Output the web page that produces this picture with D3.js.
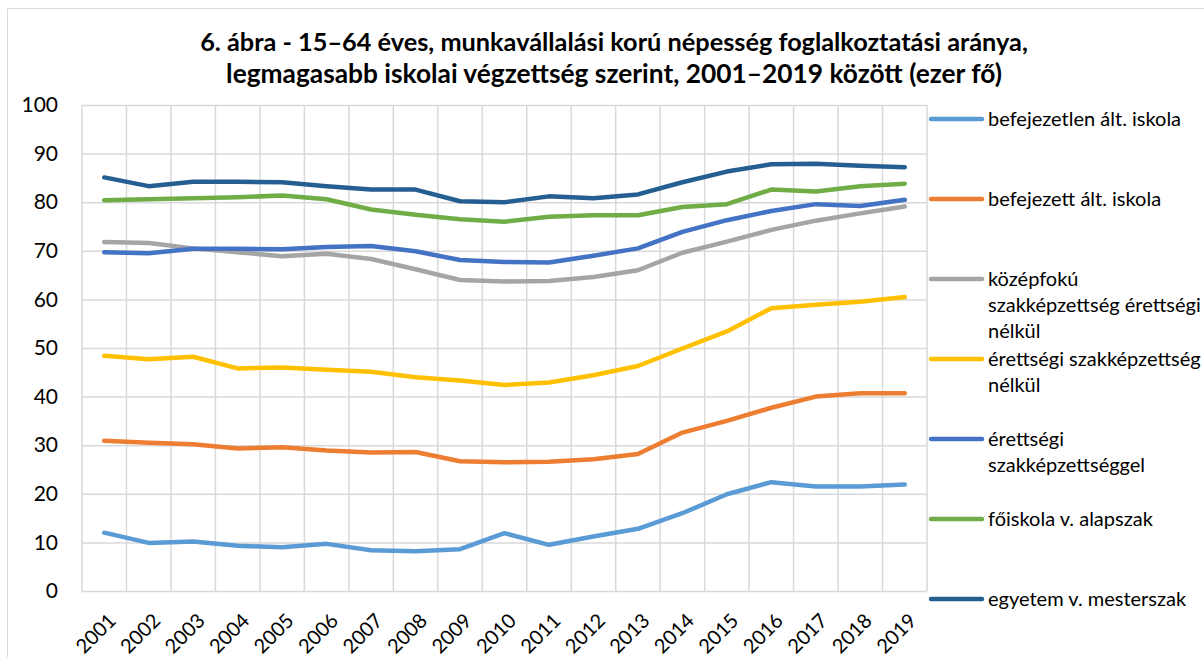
<!DOCTYPE html>
<html>
<head>
<meta charset="utf-8">
<script src="https://cdn.jsdelivr.net/npm/d3@7"></script>
<style>
  body { margin: 0; background: #fff; }
  svg text { font-family: Lato, "Noto Sans", sans-serif; fill: #000; }
</style>
</head>
<body>
<div id="chart"></div>
<script>
// Categories (x axis)
const years = ['2001', '2002', '2003', '2004', '2005', '2006', '2007', '2008', '2009', '2010',
               '2011', '2012', '2013', '2014', '2015', '2016', '2017', '2018', '2019'];

// Y axis ticks
const yTicks = [0, 10, 20, 30, 40, 50, 60, 70, 80, 90, 100];

// Series values
const befejezetlen = [12.0, 9.9, 10.2, 9.3, 9.0, 9.7, 8.4, 8.2, 8.6, 11.9, 9.5, 11.2, 12.8, 16.0, 19.9, 22.4, 21.5, 21.5, 21.9];
const befejezett = [30.9, 30.5, 30.2, 29.3, 29.6, 28.9, 28.5, 28.6, 26.7, 26.5, 26.6, 27.1, 28.2, 32.6, 35.0, 37.7, 40.0, 40.7, 40.7];
const kozepfoku = [71.8, 71.6, 70.5, 69.7, 68.9, 69.4, 68.3, 66.2, 64.0, 63.7, 63.8, 64.6, 66.0, 69.6, 71.9, 74.3, 76.2, 77.7, 79.1];
const erettsegiNelkul = [48.4, 47.7, 48.2, 45.8, 46.0, 45.5, 45.1, 44.0, 43.3, 42.4, 42.9, 44.4, 46.3, 49.9, 53.4, 58.2, 58.9, 59.5, 60.5];
const erettsegivel = [69.7, 69.5, 70.4, 70.4, 70.3, 70.8, 71.0, 69.9, 68.1, 67.7, 67.6, 69.0, 70.5, 73.9, 76.3, 78.2, 79.6, 79.2, 80.5];
const foiskola = [80.4, 80.6, 80.8, 81.0, 81.4, 80.6, 78.5, 77.4, 76.5, 76.0, 77.0, 77.3, 77.3, 79.0, 79.6, 82.6, 82.2, 83.3, 83.8];
const egyetem = [85.1, 83.3, 84.2, 84.2, 84.1, 83.3, 82.6, 82.6, 80.2, 80.0, 81.2, 80.8, 81.6, 84.1, 86.3, 87.8, 87.9, 87.5, 87.2];

// Series names and how they wrap in the legend
const seriesNames = [
    'befejezetlen ált. iskola',
    'befejezett ált. iskola',
    'középfokú szakképzettség érettségi nélkül',
    'érettségi szakképzettség nélkül',
    'érettségi szakképzettséggel',
    'főiskola v. alapszak',
    'egyetem v. mesterszak'
];
const legendLines = [
    ['befejezetlen ált. iskola'],
    ['befejezett ált. iskola'],
    ['középfokú', 'szakképzettség érettségi', 'nélkül'],
    ['érettségi szakképzettség', 'nélkül'],
    ['érettségi', 'szakképzettséggel'],
    ['főiskola v. alapszak'],
    ['egyetem v. mesterszak']
];
const seriesValues = [befejezetlen, befejezett, kozepfoku, erettsegiNelkul, erettsegivel, foiskola, egyetem];
const colors = ['#5B9BD5', '#ED7D31', '#A5A5A5', '#FFC000', '#4472C4', '#70AD47', '#255E91'];

const titleLines = [
    '6. ábra - 15–64 éves, munkavállalási korú népesség foglalkoztatási aránya,',
    'legmagasabb iskolai végzettség szerint, 2001–2019 között (ezer fő)'
];

const W = 1204, H = 657;
const margin = { top: 105, right: 277, bottom: 66, left: 82 };
const plotW = W - margin.left - margin.right;
const plotH = H - margin.top - margin.bottom;

const svg = d3.select('#chart')
    .append('svg')
    .attr('width', W)
    .attr('height', H);

// Chart border (top and left edges only are visible)
svg.append('path')
    .attr('d', `M7.5,${H} V8.5 H${W}`)
    .attr('fill', 'none')
    .attr('stroke', '#D9D9D9')
    .attr('stroke-width', 1);

// Title, fitted to the reference width
const titleWidths = [828, 776];
titleLines.forEach((line, i) => {
    const t = svg.append('text')
        .attr('x', 614)
        .attr('y', 51 + i * 32)
        .attr('text-anchor', 'middle')
        .style('font-weight', '700')
        .style('font-size', '20px')
        .text(line);
    const w = t.node().getComputedTextLength();
    t.style('font-size', (20 * titleWidths[i] / w).toFixed(2) + 'px');
});

const g = svg.append('g')
    .attr('transform', `translate(${margin.left},${margin.top})`);

const xScale = d3.scaleBand()
    .domain(years)
    .range([0, plotW]);

const yScale = d3.scaleLinear()
    .domain([0, 100])
    .range([plotH, 0]);

// Horizontal grid + y labels
const yAxis = g.append('g')
    .attr('class', 'y-axis')
    .call(d3.axisLeft(yScale).tickValues(yTicks).tickSize(-plotW).tickPadding(24));
yAxis.select('.domain').remove();
yAxis.selectAll('line').attr('stroke', '#D9D9D9').attr('stroke-width', 1.5);
yAxis.selectAll('text')
    .style('font-size', '21px')
    .style('font-family', 'Lato, sans-serif')
    .attr('fill', '#000');

// Vertical grid at category boundaries
const bounds = years.map(d => xScale(d)).concat([plotW]);
g.selectAll('.vgrid')
    .data(bounds)
    .enter()
    .append('line')
    .attr('class', 'vgrid')
    .attr('x1', d => d)
    .attr('x2', d => d)
    .attr('y1', 0)
    .attr('y2', plotH)
    .attr('stroke', '#D9D9D9')
    .attr('stroke-width', 1.5);

// X labels (rotated)
g.selectAll('.x-label')
    .data(years)
    .enter()
    .append('text')
    .attr('class', 'x-label')
    .attr('transform', d => `translate(${xScale(d) + xScale.bandwidth() / 2 + 8},${plotH + 26}) rotate(-45)`)
    .attr('text-anchor', 'end')
    .attr('dy', '0.35em')
    .style('font-size', '20px')
    .text(d => d);

// Lines
const line = d3.line()
    .x((d, i) => xScale(years[i]) + xScale.bandwidth() / 2)
    .y(d => yScale(d));

seriesValues.forEach((vals, i) => {
    g.append('path')
        .datum(vals)
        .attr('fill', 'none')
        .attr('stroke', colors[i])
        .attr('stroke-width', 4.5)
        .attr('stroke-linejoin', 'round')
        .attr('stroke-linecap', 'round')
        .attr('d', line);
});

// Legend
const legend = svg.append('g')
    .attr('class', 'legend')
    .attr('transform', 'translate(929,119)');

seriesNames.forEach((name, i) => {
    const item = legend.append('g')
        .attr('transform', `translate(0,${i * 80})`);
    item.append('line')
        .attr('x1', 2)
        .attr('x2', 53)
        .attr('y1', 0)
        .attr('y2', 0)
        .attr('stroke', colors[i])
        .attr('stroke-width', 4.5)
        .attr('stroke-linecap', 'round');
    const txt = item.append('text')
        .attr('x', 59)
        .attr('y', 0)
        .style('font-size', '20px');
    legendLines[i].forEach((l, j) => {
        txt.append('tspan')
            .attr('x', 59)
            .attr('dy', j === 0 ? '0.35em' : '26px')
            .text(l);
    });
});
</script>
</body>
</html>
